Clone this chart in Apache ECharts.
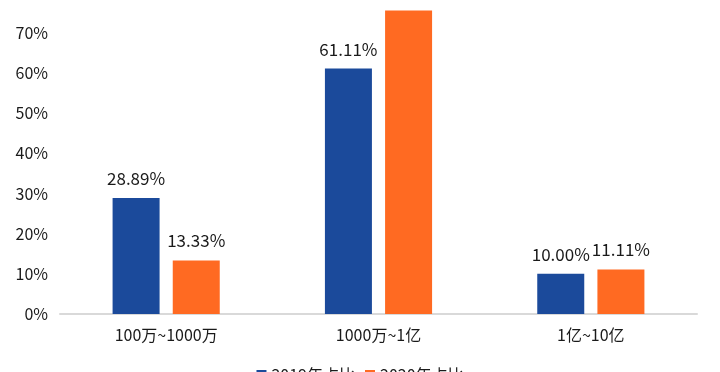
<!DOCTYPE html>
<html><head><meta charset="utf-8">
<script src="https://cdn.jsdelivr.net/npm/echarts@6/dist/echarts.min.js"></script>
<style>html,body{margin:0;padding:0;background:#fff}#c{width:720px;height:372px}</style>
</head><body><div id="c"></div>
<script>
const categories = ['100万~1000万', '1000万~1亿', '1亿~10亿'];
const series2019 = [28.89, 61.11, 10.00];
const series2020 = [13.33, 75.56, 11.11];
const seriesNames = ['2019年占比', '2020年占比'];
const colors = ['#1B4A9B', '#FF6A22'];
const font = '"Noto Sans CJK SC", "Noto Sans", sans-serif';

const chart = echarts.init(document.getElementById('c'), null, {renderer: 'canvas'});
const mk = (name, data, color) => ({
  name, type: 'bar', data, barWidth: 47, barGap: '28%',
  itemStyle: {color},
  label: {show: true, position: 'top', distance: 11, formatter: p => p.value.toFixed(2) + '%',
    color: '#1a1a1a', fontSize: 17, fontFamily: font}
});
chart.setOption({
  animation: false,
  grid: {left: 60, right: 23, top: 0, bottom: 58, containLabel: false},
  legend: {data: seriesNames, top: 362, left: 'center', itemWidth: 10, itemHeight: 10, itemGap: 10,
    icon: 'rect', textStyle: {fontSize: 16, color: '#1a1a1a', fontFamily: font}},
  xAxis: {type: 'category', data: categories,
    axisLine: {lineStyle: {color: '#d9d9d9', width: 2}}, axisTick: {show: false},
    axisLabel: {color: '#1a1a1a', fontSize: 16, fontFamily: font, margin: 13}},
  yAxis: {type: 'value', min: 0, max: 78.2, interval: 10, splitLine: {show: false},
    axisLine: {show: false}, axisTick: {show: false},
    axisLabel: {showMaxLabel: false, formatter: v => (v % 10 === 0 ? v + '%' : ''),
      color: '#1a1a1a', fontSize: 16, fontFamily: font, margin: 12}},
  series: [mk(seriesNames[0], series2019, colors[0]), mk(seriesNames[1], series2020, colors[1])]
});
</script></body></html>
